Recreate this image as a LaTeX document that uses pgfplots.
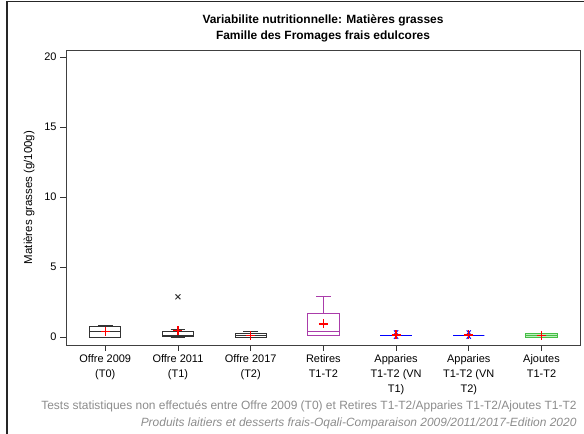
\documentclass[border=0pt]{standalone}
\usepackage{fontspec}
\setmainfont{Liberation Sans}
\usepackage{pgfplots}
\pgfplotsset{compat=1.18}
\usepgfplotslibrary{statistics}
\definecolor{footgray}{RGB}{140,140,140}
\definecolor{retpurple}{RGB}{170,60,170}
\definecolor{ajgreen}{RGB}{70,190,70}
\definecolor{ajfill}{RGB}{190,240,190}
\definecolor{meanred}{RGB}{255,0,0}
\begin{document}
\begin{tikzpicture}[x=1bp,y=1bp]
\useasboundingbox (0,0) rectangle (584,434);
\draw[black!85, line width=1.2bp] (7,0) -- (7,432.5) -- (584,432.5);
\node[font=\bfseries\fontsize{12}{14}\selectfont] at (323,414) {Variabilite nutritionnelle: Matières grasses};
\node[font=\bfseries\fontsize{12}{14}\selectfont] at (323,398) {Famille des Fromages frais edulcores};
\begin{axis}[
  at={(66bp,89bp)}, anchor=south west, scale only axis,
  width=514bp, height=295bp,
  xmin=-0.54, xmax=6.53, ymin=-0.57, ymax=20.5,
  xtick={0,1,2,3,4,5,6},
  xticklabels={{Offre 2009\\(T0)},{Offre 2011\\(T1)},{Offre 2017\\(T2)},{Retires\\T1-T2},{Apparies\\T1-T2 (VN\\T1)},{Apparies\\T1-T2 (VN\\T2)},{Ajoutes\\T1-T2}},
  xticklabel style={align=center, font=\fontsize{11}{15}\selectfont},
  ytick={0,5,10,15,20},
  yticklabel style={font=\fontsize{11}{13}\selectfont},
  /pgf/number format/assume math mode=true,
  tick pos=left, tick align=outside, major tick length=6bp,
  tick style={black!80, line width=0.8bp},
  axis line style={black!75, line width=0.9bp},
  ylabel={Matières grasses (g/100g)},
  ylabel style={font=\fontsize{11.5}{13}\selectfont},
  ylabel shift=3bp,
  boxplot/draw direction=y,
  boxplot/box extend=0.43,
  boxplot/whisker extend=0.2,
]
\addplot[black!80, line width=0.8bp, boxplot prepared={draw position=0, median=0.37, upper quartile=0.77, lower quartile=0.0, upper whisker=0.8, lower whisker=0.0}] coordinates {};
\addplot[black!80, line width=0.8bp, boxplot prepared={draw position=1, median=0.15, upper quartile=0.41, lower quartile=0.06, upper whisker=0.53, lower whisker=0.0}] coordinates {};
\addplot[black!80, line width=0.8bp, boxplot prepared={draw position=2, median=0.1, upper quartile=0.25, lower quartile=0.0, upper whisker=0.41, lower whisker=0.0}] coordinates {};
\addplot[retpurple, line width=0.9bp, boxplot prepared={draw position=3, median=0.37, upper quartile=1.68, lower quartile=0.13, upper whisker=2.9, lower whisker=0.08}] coordinates {};
\addplot[blue, line width=1bp, boxplot prepared={draw position=4, median=0.1, upper quartile=0.1, lower quartile=0.1, upper whisker=0.1, lower whisker=0.1}] coordinates {};
\addplot[blue, line width=1bp, boxplot prepared={draw position=5, median=0.1, upper quartile=0.1, lower quartile=0.1, upper whisker=0.1, lower whisker=0.1}] coordinates {};
\addplot[ajgreen, fill=ajfill, line width=0.9bp, boxplot prepared={draw position=6, median=0.12, upper quartile=0.25, lower quartile=0.0, upper whisker=0.25, lower whisker=0.0}] coordinates {};
% outliers
\addplot[only marks, mark=x, mark size=3.5bp, black!80, mark options={line width=0.9bp}] coordinates {(1,2.87)};
\addplot[only marks, mark=x, mark size=3bp, blue, mark options={line width=0.9bp}] coordinates {(4,0.32)(4,0.03)(5,0.32)(5,0.03)};
% means
\addplot[only marks, mark=+, mark size=4.5bp, color=meanred, mark options={line width=1.3bp, color=meanred, solid}] table[row sep=\\] {
x y\\
0 0.37\\
1 0.46\\
2 0.10\\
3 0.94\\
4 0.15\\
5 0.15\\
6 0.12\\
};
\end{axis}
\node[anchor=base east, text=footgray, font=\fontsize{12}{14}\selectfont] at (580,24) {Tests statistiques non effectués entre Offre 2009 (T0) et Retires T1-T2/Apparies T1-T2/Ajoutes T1-T2};
\node[anchor=base east, text=footgray, font=\itshape\fontsize{12}{14}\selectfont] at (580,7.5) {Produits laitiers et desserts frais-Oqali-Comparaison 2009/2011/2017-Edition 2020};
\end{tikzpicture}
\end{document}
